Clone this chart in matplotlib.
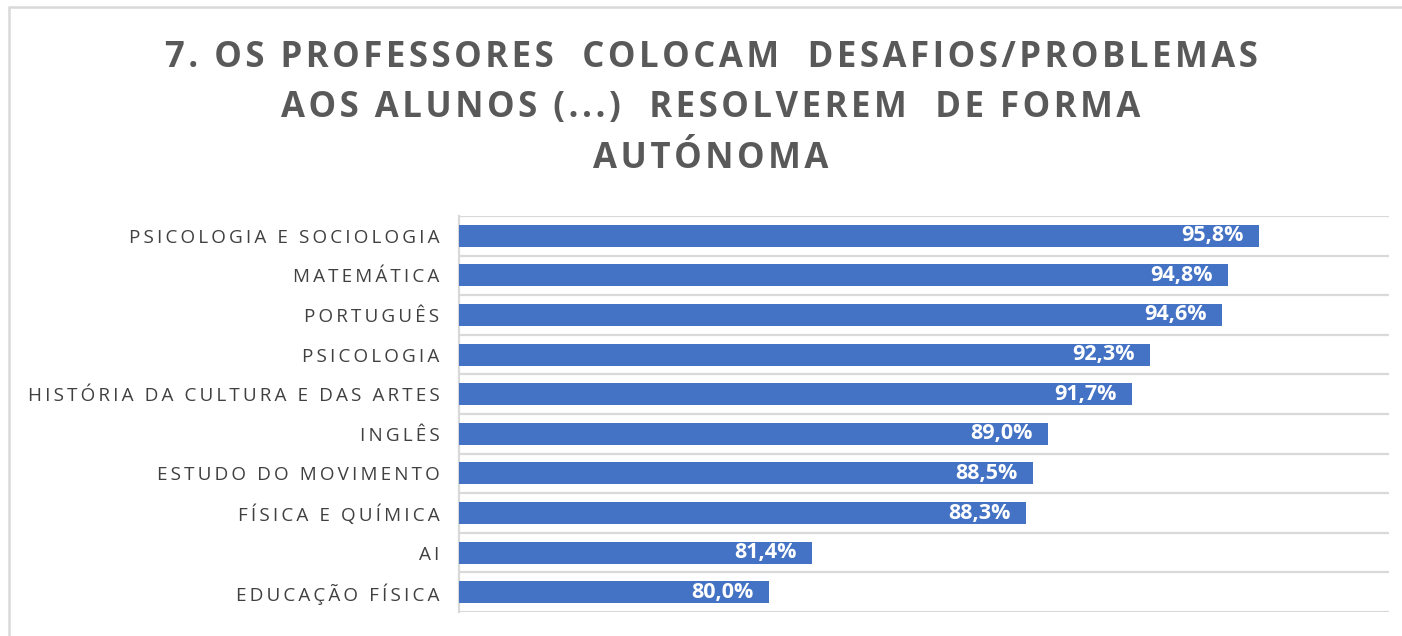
import matplotlib.pyplot as plt
from matplotlib.patches import Rectangle

# --- data ---
categories = ["PSICOLOGIA E SOCIOLOGIA", "MATEMÁTICA", "PORTUGUÊS", "PSICOLOGIA",
              "HISTÓRIA DA CULTURA E DAS ARTES", "INGLÊS", "ESTUDO DO MOVIMENTO",
              "FÍSICA E QUÍMICA", "AI", "EDUCAÇÃO FÍSICA"]
values = [95.8, 94.8, 94.6, 92.3, 91.7, 89.0, 88.5, 88.3, 81.4, 80.0]
title_lines = ["7. OS PROFESSORES  COLOCAM  DESAFIOS/PROBLEMAS",
               "AOS ALUNOS (...)  RESOLVEREM  DE FORMA",
               "AUTÓNOMA"]

bar_color = "#4472C4"
grid_color = "#d9d9d9"


def spaced(s, gap="\u200a"):
    # imitate the wide letter spacing of the original
    return gap.join(s)


W, H = 1402, 636
fig = plt.figure(figsize=(W / 100, H / 100), dpi=100)

# outer chart frame
fig.patches.append(Rectangle((9 / W, -0.1), 1.2, 1 - 7 / H + 0.1, transform=fig.transFigure,
                             fill=False, edgecolor=grid_color, linewidth=1.8))

# title
for i, line in enumerate(title_lines):
    fig.text(711 / W, 1 - (58 + 50.5 * i) / H, spaced(line, "\u200a"), ha="center", va="center",
             fontsize=25, fontweight="bold", color="#595959", family=["Open Sans", "DejaVu Sans"])

ax = fig.add_axes([459 / W, 24 / H, 930 / W, 396 / H])
y = list(range(len(categories)))
ax.barh(y, values, height=0.56, color=bar_color, zorder=3)
ax.set_xlim(70, 100)
ax.set_ylim(len(categories) - 0.5, -0.5)

ax.set_yticks(y)
ax.set_yticklabels([spaced(c, "\u2009") for c in categories], family=["Open Sans", "DejaVu Sans"],
                   fontsize=13.6, color="#404040")
ax.tick_params(axis="y", length=0, pad=14)
ax.set_xticks([])

# separators between categories
ax.set_yticks([i + 0.5 for i in range(-1, len(categories))], minor=True)
ax.tick_params(axis="y", which="minor", length=0)
ax.grid(which="minor", axis="y", color=grid_color, linewidth=1.6, zorder=0)

for s in ["top", "right", "bottom"]:
    ax.spines[s].set_visible(False)
ax.spines["left"].set_color(grid_color)
ax.spines["left"].set_linewidth(1.6)

for yi, v in zip(y, values):
    ax.annotate(f"{v:.1f}%".replace(".", ","), (v, yi), xytext=(-11, 0), textcoords="offset points",
                ha="right", va="center", color="white", fontweight="bold", fontsize=15.5,
                family=["Open Sans", "DejaVu Sans"], zorder=4)

fig.savefig("out.png", dpi=100)
